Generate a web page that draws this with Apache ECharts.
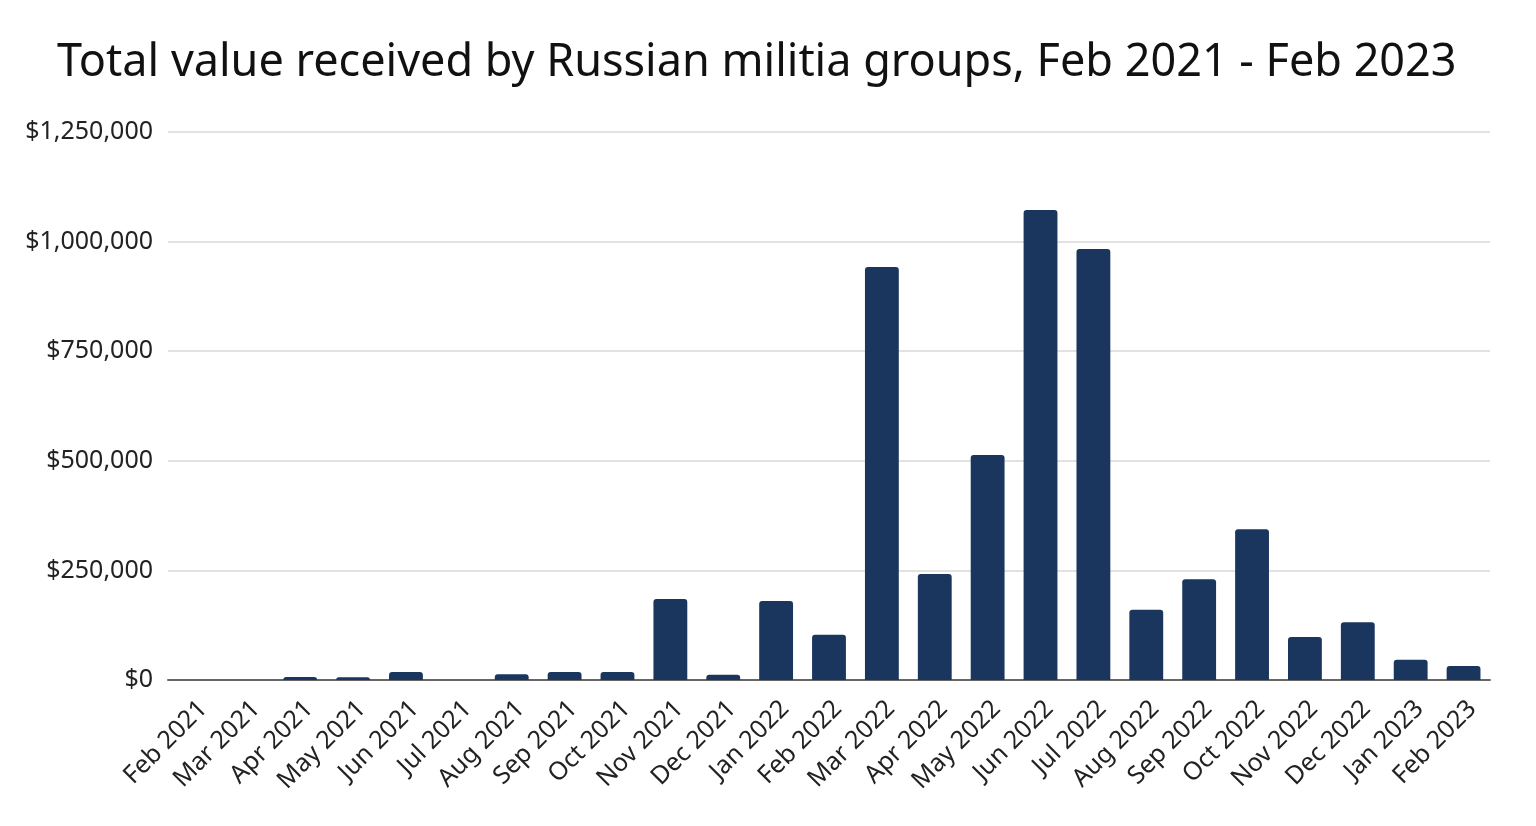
<!DOCTYPE html>
<html><head><meta charset="utf-8">
<script src="https://cdn.jsdelivr.net/npm/echarts@6/dist/echarts.min.js"></script>
<style>html,body{margin:0;padding:0;background:#fff}#c{width:1536px;height:826px}</style>
</head><body><div id="c"></div>
<script>
const categories = ["Feb 2021","Mar 2021","Apr 2021","May 2021","Jun 2021","Jul 2021","Aug 2021","Sep 2021","Oct 2021","Nov 2021","Dec 2021","Jan 2022","Feb 2022","Mar 2022","Apr 2022","May 2022","Jun 2022","Jul 2022","Aug 2022","Sep 2022","Oct 2022","Nov 2022","Dec 2022","Jan 2023","Feb 2023"];
const values = [0,0,7000,6000,18000,0,13000,18000,18000,185000,12000,180000,103000,942000,242000,513000,1072000,983000,160000,230000,344000,98000,132000,46000,32000];
const yTicks = [0,250000,500000,750000,1000000,1250000];

const chart = echarts.init(document.getElementById('c'));
chart.setOption({
  animation:false,
  title:{text:'Total value received by Russian militia groups, Feb 2021 - Feb 2023',left:52,top:36,
    textStyle:{fontFamily:'Noto Sans',fontWeight:'normal',fontSize:45,color:'#111'}},
  grid:{left:168,right:46,top:132,bottom:146},
  xAxis:{type:'category',data:categories,
    axisLine:{lineStyle:{color:'#666',width:2}},
    axisTick:{show:false},
    axisLabel:{rotate:45,fontFamily:'Noto Sans',fontSize:25,color:'#222',interval:0,margin:16,verticalAlign:'top'}},
  yAxis:{type:'value',min:0,max:yTicks[yTicks.length-1],interval:250000,
    axisLine:{show:false},axisTick:{show:false},
    splitLine:{lineStyle:{color:'#d9d9d9',width:1.5}},
    axisLabel:{fontFamily:'Noto Sans',fontSize:25,color:'#222',margin:15,
      formatter:v=>'$'+v.toLocaleString('en-US')}},
  series:[{type:'bar',data:values,barCategoryGap:'36%',
    itemStyle:{color:'#1a365e',borderRadius:[3,3,0,0]}}]
});
</script></body></html>
